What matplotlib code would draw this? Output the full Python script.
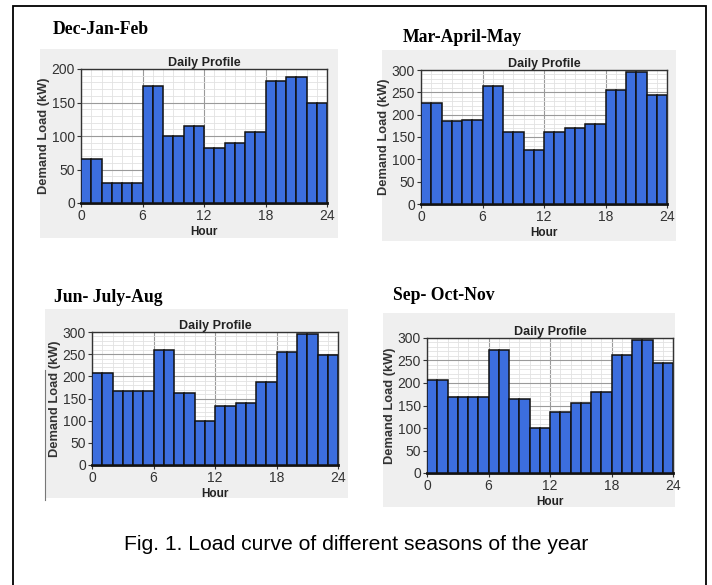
import numpy as np
import matplotlib
matplotlib.use("Agg")
import matplotlib.pyplot as plt
from matplotlib.ticker import MultipleLocator
from matplotlib.patches import Rectangle

W, H = 712, 585

hours = np.arange(24)

# demand per hour (kW), one value per hourly bar
dec_jan_feb = [65, 65, 30, 30, 30, 30, 175, 175, 100, 100, 115, 115,
               82, 82, 90, 90, 106, 106, 182, 182, 188, 188, 150, 150]
mar_apr_may = [225, 225, 185, 185, 188, 188, 265, 265, 162, 162, 122, 122,
               162, 162, 170, 170, 178, 178, 255, 255, 295, 295, 243, 243]
jun_jul_aug = [207, 207, 168, 168, 168, 168, 260, 260, 162, 162, 100, 100,
               132, 132, 140, 140, 188, 188, 255, 255, 295, 295, 247, 247]
sep_oct_nov = [207, 207, 168, 168, 168, 168, 273, 273, 165, 165, 100, 100,
               135, 135, 155, 155, 180, 180, 263, 263, 295, 295, 245, 245]

seasons = ["Dec-Jan-Feb", "Mar-April-May", "Jun- July-Aug", "Sep- Oct-Nov"]
loads = [dec_jan_feb, mar_apr_may, jun_jul_aug, sep_oct_nov]
ymax = [200, 300, 300, 300]

# pixel layout: (title x, title y, bg box, axes box) -- boxes as x0, y0, x1, y1
layout = [
    (53, 30, (40, 49, 338, 238), (81, 69, 327, 203)),
    (403, 37, (382, 50, 676, 241), (421, 70, 667, 204)),
    (54, 297, (45, 309, 348, 498), (92, 332, 338, 465)),
    (393, 295, (383, 313, 675, 507), (427, 338, 673, 473)),
]

plt.rcParams['font.family'] = ['Liberation Sans', 'DejaVu Sans']

fig = plt.figure(figsize=(W / 100, H / 100), dpi=100)


def fx(x):
    return x / W


def fy(y):
    return 1 - y / H


# outer frame
fig.patches.append(Rectangle((fx(13), fy(590)), fx(706) - fx(13), fy(6) - fy(590),
                             transform=fig.transFigure, fill=False,
                             edgecolor='black', linewidth=1.3, zorder=-1))

for name, vals, top, (tx, ty, bg, box) in zip(seasons, loads, ymax, layout):
    fig.patches.append(Rectangle((fx(bg[0]), fy(bg[3])), fx(bg[2]) - fx(bg[0]),
                                 fy(bg[1]) - fy(bg[3]), transform=fig.transFigure,
                                 facecolor='#efefef', edgecolor='none', zorder=-1))
    fig.text(fx(tx), fy(ty), name, family='Liberation Serif', fontweight='bold',
             fontsize=12.7, va='center', ha='left')

    ax = fig.add_axes([fx(box[0]), fy(box[3]), fx(box[2]) - fx(box[0]),
                       fy(box[1]) - fy(box[3])])
    ax.bar(hours, vals, width=1, align='edge', color='#3c6ede',
           edgecolor='#111111', linewidth=1.1, zorder=3)
    ax.set_xlim(0, 24)
    ax.set_ylim(0, top)
    ax.xaxis.set_major_locator(MultipleLocator(6))
    ax.xaxis.set_minor_locator(MultipleLocator(1))
    ax.yaxis.set_major_locator(MultipleLocator(50))
    ax.yaxis.set_minor_locator(MultipleLocator(10))
    ax.grid(which='minor', color='#e2e2e2', linewidth=0.6, zorder=0)
    ax.grid(which='major', color='#9a9a9a', linewidth=0.8, zorder=1)
    ax.tick_params(which='minor', length=0)
    ax.tick_params(which='major', length=3, width=0.8, labelsize=10,
                   colors='#333333', pad=1.5)
    for s in ax.spines.values():
        s.set_color('#333333')
        s.set_linewidth(1.0)
    ax.spines['bottom'].set_linewidth(2.0)
    ax.spines['bottom'].set_color('#111111')
    ax.set_title("Daily Profile", fontsize=9, fontweight='bold', pad=2,
                 color='#222222')
    ax.set_xlabel("Hour", fontsize=8.5, fontweight='bold', labelpad=2,
                  color='#222222')
    ax.set_ylabel("Demand Load (kW)", fontsize=9.3, fontweight='bold',
                  labelpad=1, color='#333333')

# stray rule beside the summer panel
fig.add_artist(plt.Line2D([fx(45), fx(45)], [fy(370), fy(500)],
                          transform=fig.transFigure, color='#777777', linewidth=0.8))

fig.text(0.5, fy(544), "Fig. 1. Load curve of different seasons of the year",
         ha='center', va='center', fontsize=15.2)

fig.savefig("out.png", dpi=100)
